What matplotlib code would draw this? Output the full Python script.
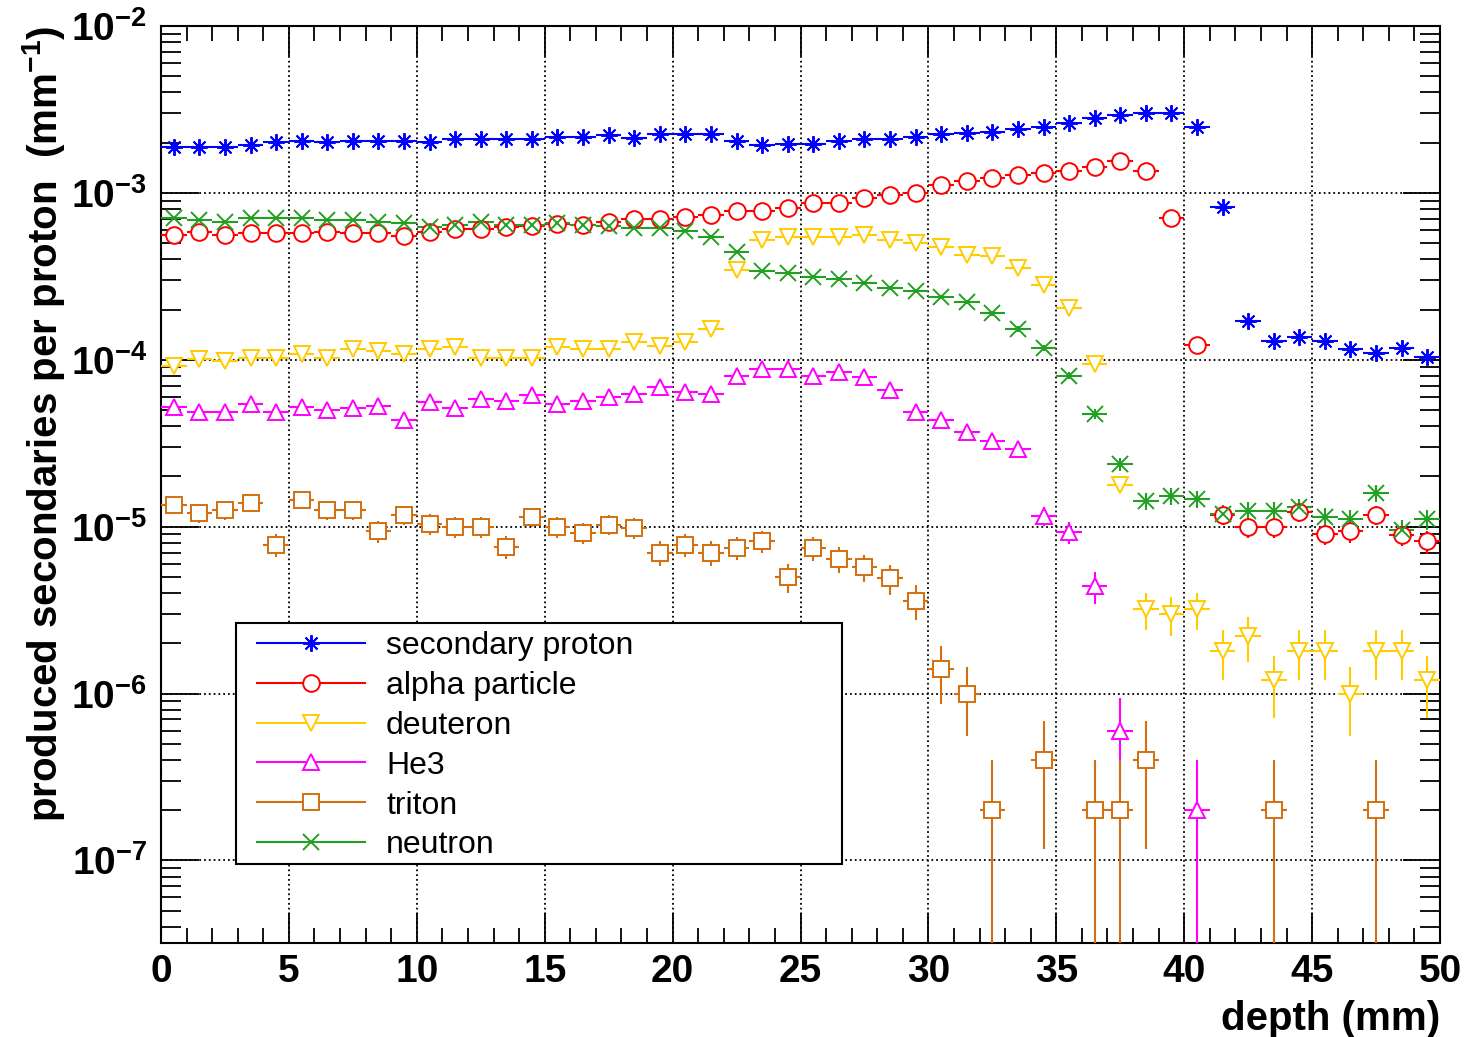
import numpy as np
import matplotlib
matplotlib.use("Agg")
import matplotlib.pyplot as plt
from matplotlib.lines import Line2D
from matplotlib.patches import Rectangle
from matplotlib.ticker import FuncFormatter, LogLocator, MultipleLocator, NullFormatter

plt.rcParams["font.family"] = ["Liberation Sans", "DejaVu Sans"]
plt.rcParams["mathtext.fontset"] = "custom"
plt.rcParams["mathtext.rm"] = "Liberation Sans"
plt.rcParams["mathtext.bf"] = "Liberation Sans:bold"

nan = np.nan

# 1 mm depth bins, 0..50 mm (bin centres)
depth_mm = np.arange(0.5, 50.0, 1.0)

# weight of a single produced particle (per proton per mm) -> Poisson errors
COUNT_WEIGHT = 2e-7

proton = [
    1.89e-3, 1.89e-3, 1.89e-3, 1.94e-3, 2.01e-3, 2.04e-3, 2.01e-3, 2.04e-3, 2.04e-3, 2.04e-3,
    2.01e-3, 2.11e-3, 2.11e-3, 2.11e-3, 2.11e-3, 2.16e-3, 2.16e-3, 2.23e-3, 2.13e-3, 2.26e-3,
    2.26e-3, 2.26e-3, 2.06e-3, 1.94e-3, 1.97e-3, 1.97e-3, 2.06e-3, 2.11e-3, 2.11e-3, 2.17e-3,
    2.26e-3, 2.29e-3, 2.31e-3, 2.42e-3, 2.49e-3, 2.62e-3, 2.81e-3, 2.93e-3, 3.01e-3, 3.01e-3,
    2.49e-3, 8.24e-4, 1.71e-4, 1.30e-4, 1.37e-4, 1.30e-4, 1.16e-4, 1.10e-4, 1.18e-4, 1.04e-4,
]
alpha = [
    5.60e-4, 5.86e-4, 5.60e-4, 5.74e-4, 5.74e-4, 5.74e-4, 5.86e-4, 5.78e-4, 5.78e-4, 5.53e-4,
    5.86e-4, 6.06e-4, 6.06e-4, 6.28e-4, 6.34e-4, 6.52e-4, 6.43e-4, 6.70e-4, 7.00e-4, 7.00e-4,
    7.21e-4, 7.38e-4, 7.80e-4, 7.80e-4, 8.10e-4, 8.75e-4, 8.75e-4, 9.30e-4, 9.73e-4, 1.00e-3,
    1.12e-3, 1.18e-3, 1.23e-3, 1.28e-3, 1.32e-3, 1.35e-3, 1.43e-3, 1.56e-3, 1.35e-3, 7.06e-4,
    1.23e-4, 1.18e-5, 9.96e-6, 9.96e-6, 1.22e-5, 9.08e-6, 9.37e-6, 1.18e-5, 8.96e-6, 8.17e-6,
]
deuteron = [
    9.20e-5, 1.01e-4, 9.86e-5, 1.03e-4, 1.03e-4, 1.08e-4, 1.03e-4, 1.16e-4, 1.13e-4, 1.08e-4,
    1.16e-4, 1.19e-4, 1.03e-4, 1.03e-4, 1.03e-4, 1.19e-4, 1.16e-4, 1.16e-4, 1.27e-4, 1.21e-4,
    1.27e-4, 1.53e-4, 3.46e-4, 5.23e-4, 5.47e-4, 5.47e-4, 5.47e-4, 5.60e-4, 5.23e-4, 5.04e-4,
    4.77e-4, 4.25e-4, 4.16e-4, 3.54e-4, 2.81e-4, 2.04e-4, 9.43e-5, 1.78e-5, 3.2e-6, 3.0e-6,
    3.2e-6, 1.8e-6, 2.2e-6, 1.2e-6, 1.8e-6, 1.8e-6, 1.0e-6, 1.8e-6, 1.8e-6, 1.2e-6,
]
he3 = [
    5.23e-5, 4.84e-5, 4.84e-5, 5.43e-5, 4.84e-5, 5.18e-5, 5.00e-5, 5.14e-5, 5.30e-5, 4.36e-5,
    5.55e-5, 5.14e-5, 5.82e-5, 5.68e-5, 6.17e-5, 5.43e-5, 5.68e-5, 6.00e-5, 6.23e-5, 6.89e-5,
    6.40e-5, 6.23e-5, 8.02e-5, 8.80e-5, 8.80e-5, 8.02e-5, 8.39e-5, 7.91e-5, 6.61e-5, 4.84e-5,
    4.36e-5, 3.67e-5, 3.27e-5, 2.92e-5, 1.16e-5, 9.25e-6, 4.4e-6, 6.0e-7, nan, nan,
    2.0e-7, nan, nan, nan, nan, nan, nan, nan, nan, nan,
]
triton = [
    1.35e-5, 1.21e-5, 1.25e-5, 1.39e-5, 7.8e-6, 1.44e-5, 1.25e-5, 1.25e-5, 9.4e-6, 1.18e-5,
    1.04e-5, 1.00e-5, 1.00e-5, 7.6e-6, 1.15e-5, 1.00e-5, 9.2e-6, 1.03e-5, 9.8e-6, 7.0e-6,
    7.8e-6, 7.0e-6, 7.5e-6, 8.2e-6, 5.0e-6, 7.4e-6, 6.4e-6, 5.7e-6, 4.9e-6, 3.6e-6,
    1.4e-6, 1.0e-6, 2.0e-7, nan, 4.0e-7, nan, 2.0e-7, 2.0e-7, 4.0e-7, nan,
    nan, nan, nan, 2.0e-7, nan, nan, nan, 2.0e-7, nan, nan,
]
neutron = [
    7.06e-4, 6.89e-4, 6.73e-4, 7.06e-4, 7.06e-4, 7.06e-4, 6.89e-4, 6.89e-4, 6.73e-4, 6.59e-4,
    6.28e-4, 6.43e-4, 6.73e-4, 6.43e-4, 6.43e-4, 6.59e-4, 6.43e-4, 6.30e-4, 6.15e-4, 6.15e-4,
    5.95e-4, 5.47e-4, 4.45e-4, 3.38e-4, 3.31e-4, 3.15e-4, 3.04e-4, 2.90e-4, 2.69e-4, 2.60e-4,
    2.39e-4, 2.23e-4, 1.90e-4, 1.53e-4, 1.18e-4, 8.02e-5, 4.73e-5, 2.37e-5, 1.42e-5, 1.53e-5,
    1.47e-5, 1.19e-5, 1.24e-5, 1.24e-5, 1.31e-5, 1.15e-5, 1.11e-5, 1.59e-5, 9.6e-6, 1.11e-5,
]

labels = ["secondary proton", "alpha particle", "deuteron", "He3", "triton", "neutron"]
series = [proton, alpha, deuteron, he3, triton, neutron]
colors = ["#0000ff", "#ff0000", "#ffcc00", "#ff00ff", "#d2700f", "#22a022"]
markers = [(8, 2, 0), "o", "v", "^", "s", "x"]
open_marker = [False, True, True, True, True, False]

fig = plt.figure(figsize=(14.67, 10.37), dpi=100)
fig.patch.set_facecolor("white")
ax = fig.add_axes([161 / 1467, 94 / 1037, 1279 / 1467, 917 / 1037])

handles = []
for lbl, vals, c, m, op in zip(labels, series, colors, markers, open_marker):
    v = np.asarray(vals, dtype=float)
    err = np.sqrt(v * COUNT_WEIGHT)
    mfc = "white" if op else c
    ax.errorbar(
        depth_mm, v, xerr=0.5, yerr=err, fmt="none", ecolor=c, elinewidth=1.5, capsize=0, zorder=3
    )
    ax.plot(depth_mm, v, ls="none", marker=m, ms=12, mfc=mfc, mec=c, mew=1.4, zorder=4)
    handles.append(
        Line2D([0], [0], color=c, lw=1.5, marker=m, ms=12, mfc=mfc, mec=c, mew=1.4)
    )

ax.set_yscale("log")
ax.set_xlim(0, 50)
ax.set_ylim(3.2e-8, 1e-2)

ax.xaxis.set_major_locator(MultipleLocator(5))
ax.xaxis.set_minor_locator(MultipleLocator(1))
ax.xaxis.set_major_formatter(FuncFormatter(lambda v, _: f"{v:.0f}"))
ax.yaxis.set_major_locator(LogLocator(base=10, numticks=20))
ax.yaxis.set_minor_locator(LogLocator(base=10, subs=np.arange(2, 10), numticks=20))
ax.yaxis.set_minor_formatter(NullFormatter())
ax.yaxis.set_major_formatter(
    FuncFormatter(lambda v, _: r"$\mathbf{10^{%d}}$" % int(round(np.log10(v))))
)

ax.tick_params(which="both", direction="in", top=True, right=True, width=1.3, colors="black")
ax.tick_params(axis="x", which="major", length=21.6, labelsize=28, pad=8)
ax.tick_params(axis="x", which="minor", length=10.8)
ax.tick_params(axis="y", which="major", length=27, labelsize=28, pad=10)
ax.tick_params(axis="y", which="minor", length=14.5)
plt.setp(ax.get_xticklabels(), fontweight="bold")

for s in ax.spines.values():
    s.set_linewidth(1.5)

ax.set_axisbelow(True)
ax.grid(True, which="major", ls=":", color="black", lw=1.3)

ax.set_xlabel("depth (mm)", fontsize=29, fontweight="bold", loc="right")
ax.xaxis.set_label_coords(1.0, -0.062)
ax.set_ylabel(r"produced secondaries per proton  (mm$^{\mathbf{-1}}$)", fontsize=29,
              fontweight="bold", loc="top")
ax.yaxis.set_label_coords(-0.0735, 1.0)

# legend box drawn ROOT-style: plain rectangle with the entries on top
ax.add_patch(Rectangle((0.0586, 0.0861), 0.4738, 0.2629, transform=ax.transAxes,
                       fc="white", ec="black", lw=1.5, zorder=6))
leg = ax.legend(handles, labels, loc="upper left", bbox_to_anchor=(0.0751, 0.3403),
                frameon=False, fontsize=23, handlelength=3.38, handletextpad=0.66,
                labelspacing=0.31, borderpad=0, borderaxespad=0)
leg.set_zorder(7)

fig.savefig("out.png", dpi=100)
